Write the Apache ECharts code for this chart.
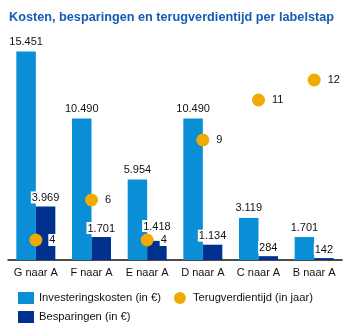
<!DOCTYPE html>
<html>
<head>
<meta charset="utf-8">
<script src="https://cdn.jsdelivr.net/npm/echarts@6/dist/echarts.min.js"></script>
<style>
  html, body { margin: 0; padding: 0; background: #fff; }
  #chart { width: 350px; height: 327px; }
</style>
</head>
<body>
<div id="chart"></div>
<script>
// Energielabel-stappen en bijbehorende cijfers
const categories = ['G naar A', 'F naar A', 'E naar A', 'D naar A', 'C naar A', 'B naar A'];
const investeringskosten = [15451, 10490, 5954, 10490, 3119, 1701];
const besparingen = [3969, 1701, 1418, 1134, 284, 142];
const terugverdientijd = [4, 6, 4, 9, 11, 12];

const seriesNames = ['Investeringskosten (in €)', 'Besparingen (in €)', 'Terugverdientijd (in jaar)'];

const LIGHT = '#0a8fd6';
const DARK = '#00318e';
const ORANGE = '#f0aa00';
const FONT = '"Liberation Sans", Arial, sans-serif';

// Duizendtallen met een punt, zoals in het Nederlands
function nl(v) {
  return String(v).replace(/\B(?=(\d{3})+(?!\d))/g, '.');
}

const chart = echarts.init(document.getElementById('chart'), null, { renderer: 'canvas' });

// Schuift een besparingslabel omhoog als het over het label van de terugverdientijd valt
function avoidLineLabel(params) {
  const r = params.labelRect;
  let pt;
  try {
    pt = chart.convertToPixel({ seriesIndex: 2 }, [params.dataIndex, terugverdientijd[params.dataIndex]]);
  } catch (e) {
    return {};
  }
  if (!pt) return {};
  const other = { x: pt[0] - 7, y: pt[1] - 8, width: 24, height: 16 };
  const overlapX = r.x < other.x + other.width && r.x + r.width > other.x;
  const overlapY = r.y < other.y + other.height && r.y + r.height > other.y;
  if (overlapX && overlapY) {
    return { dy: other.y - (r.y + r.height) };
  }
  return {};
}

chart.setOption({
  animation: false,
  title: {
    text: 'Kosten, besparingen en terugverdientijd per labelstap',
    left: 4,
    top: 6,
    textStyle: { fontFamily: FONT, fontSize: 12.7, fontWeight: 'bold', color: '#165cb4' }
  },
  legend: [
    {
      left: 13, top: 287,
      itemWidth: 16, itemHeight: 12, itemGap: 13,
      textStyle: { fontFamily: FONT, fontSize: 11.2, color: '#111' },
      data: [
        { name: seriesNames[0], icon: 'rect' },
        { name: seriesNames[2], icon: 'circle' }
      ]
    },
    {
      left: 13, top: 306,
      itemWidth: 16, itemHeight: 12,
      textStyle: { fontFamily: FONT, fontSize: 11.2, color: '#111' },
      data: [{ name: seriesNames[1], icon: 'rect' }]
    }
  ],
  grid: { left: 8, right: 8, top: 44, bottom: 67, containLabel: false },
  xAxis: {
    type: 'category',
    data: categories,
    axisLine: { lineStyle: { color: '#111', width: 1.5 } },
    axisTick: { show: false },
    axisLabel: { interval: 0, fontFamily: FONT, fontSize: 11, color: '#111', margin: 7 }
  },
  yAxis: [
    { type: 'value', min: 0, max: 16000, show: false, splitLine: { show: false } },
    { type: 'value', min: 3, max: 13.8, show: false, splitLine: { show: false } }
  ],
  series: [
    {
      name: seriesNames[0],
      type: 'bar',
      data: investeringskosten,
      barWidth: 19.5,
      barGap: '0%',
      itemStyle: { color: LIGHT },
      label: {
        show: true, position: 'top', distance: 4,
        fontFamily: FONT, fontSize: 11, color: '#111',
        formatter: p => nl(p.value)
      }
    },
    {
      name: seriesNames[1],
      type: 'bar',
      data: besparingen,
      barWidth: 19.5,
      itemStyle: { color: DARK },
      label: {
        show: true, position: 'top', distance: 3, offset: [7, 0],
        fontFamily: FONT, fontSize: 11, color: '#111',
        backgroundColor: '#fff', padding: [1, 1, 0, 1],
        formatter: p => nl(p.value)
      },
      labelLayout: avoidLineLabel
    },
    {
      name: seriesNames[2],
      type: 'line',
      yAxisIndex: 1,
      data: terugverdientijd,
      symbol: 'circle',
      symbolSize: 13,
      lineStyle: { width: 0, opacity: 0 },
      itemStyle: { color: ORANGE },
      label: {
        show: true, position: 'right', distance: 6,
        fontFamily: FONT, fontSize: 11, color: '#111',
        backgroundColor: '#fff', padding: [1, 1, 0, 1]
      },
      z: 3
    }
  ]
});
</script>
</body>
</html>
